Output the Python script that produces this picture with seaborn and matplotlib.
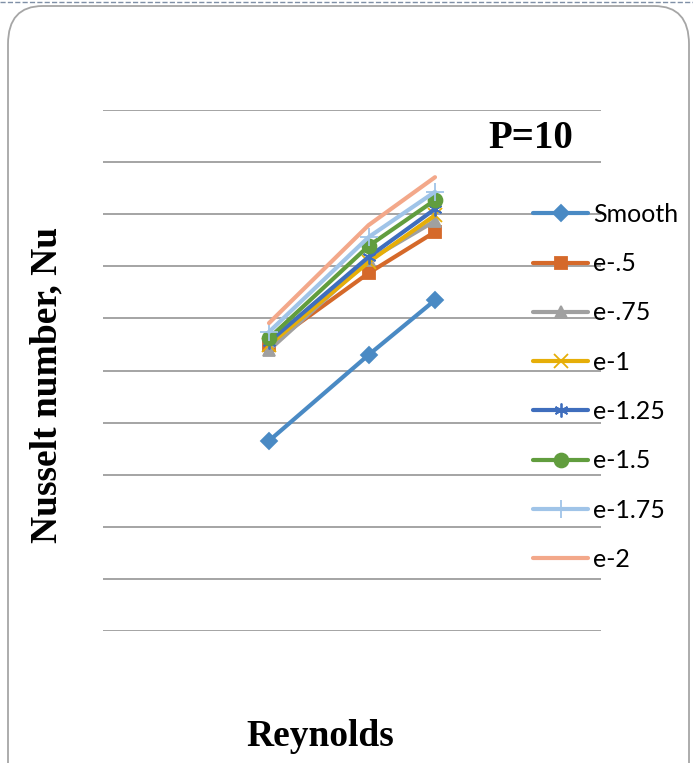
import matplotlib
matplotlib.use("Agg")
import matplotlib.pyplot as plt
import seaborn as sns
import pandas as pd
from matplotlib.patches import FancyBboxPatch
from matplotlib.lines import Line2D

sns.set_style("white")

reynolds = [5000, 8000, 10000]
series_names = ["Smooth", "e-.5", "e-.75", "e-1", "e-1.25", "e-1.5", "e-1.75", "e-2"]
smooth = [3.65, 5.30, 6.35]
e_05 = [5.49, 6.87, 7.66]
e_075 = [5.39, 7.12, 7.87]
e_1 = [5.49, 7.08, 7.98]
e_125 = [5.55, 7.18, 8.10]
e_15 = [5.62, 7.39, 8.27]
e_175 = [5.74, 7.56, 8.43]
e_2 = [5.91, 7.79, 8.71]
values = [smooth, e_05, e_075, e_1, e_125, e_15, e_175, e_2]

colors = ["#4A8AC4", "#D5692A", "#A0A0A0", "#E6AE08", "#3F6EBD", "#619D3E", "#A0C4E8", "#F3A88A"]
markers = ["D", "s", "^", "x", (6, 2, 0), "o", "+", None]
msizes = [8, 9, 9, 10, 10, 10, 13, 0]

fig = plt.figure(figsize=(6.93, 7.63), dpi=100)
ax = fig.add_axes([103/693, 1-631/763, (601-103)/693, (631-110)/763])

for name, vals, c, m, ms in zip(series_names, values, colors, markers, msizes):
    df = pd.DataFrame({"Reynolds": reynolds, "Nu": vals})
    kw = dict(marker=m, markersize=ms, markerfacecolor=c, markeredgecolor=c, markeredgewidth=1.3) if m is not None else {}
    sns.lineplot(data=df, x="Reynolds", y="Nu", color=c, linewidth=3, label=name, ax=ax, **kw)

ax.set_xlim(0, 15000)
ax.set_ylim(0, 10)
ax.set_yticks(range(0, 11))
ax.yaxis.grid(True, color="#8C8C8C", linewidth=1.1)
ax.xaxis.grid(False)
ax.set_axisbelow(True)
for s in ax.spines.values():
    s.set_visible(False)
ax.set_xticks([])
ax.tick_params(left=False, labelleft=False, bottom=False, labelbottom=False)
ax.set_xlabel("")
ax.set_ylabel("")
ax.patch.set_alpha(0)

fig.text(531/693, 1-138/763, "P=10", ha="center", va="center", color="black",
         fontsize=28, fontweight="bold", family="Liberation Serif")
fig.text(47/693, 1-385/763, "Nusselt number, Nu", rotation=90, ha="center", va="center",
         color="black", fontsize=27, fontweight="bold", family="Liberation Serif")
fig.text(320/693, 1-737/763, "Reynolds", ha="center", va="center", color="black",
         fontsize=27, fontweight="bold", family="Liberation Serif")

handles, labels = ax.get_legend_handles_labels()
leg = ax.legend(handles, labels, loc="upper left", bbox_to_anchor=(533/693, 1-203/763),
                bbox_transform=fig.transFigure, frameon=False, borderpad=0, borderaxespad=0,
                handlelength=2.2, handletextpad=0.2, labelspacing=1.05,
                prop={"family": "Lato", "size": 18})
for t in leg.get_texts():
    t.set_color("black")

# rounded border
border = FancyBboxPatch((8/693, -0.05), (689-8)/693, 1.05 - 6/763,
                        boxstyle="round,pad=0,rounding_size=0.05", transform=fig.transFigure,
                        facecolor="none", edgecolor="#A6A6A6", linewidth=1.3, zorder=0)
fig.patches.append(border)
fig.lines.append(Line2D([0, 1], [1-1.5/763, 1-1.5/763], transform=fig.transFigure,
                        color="#7F8FA6", linestyle="--", linewidth=1))

fig.savefig("out.png", dpi=100)
